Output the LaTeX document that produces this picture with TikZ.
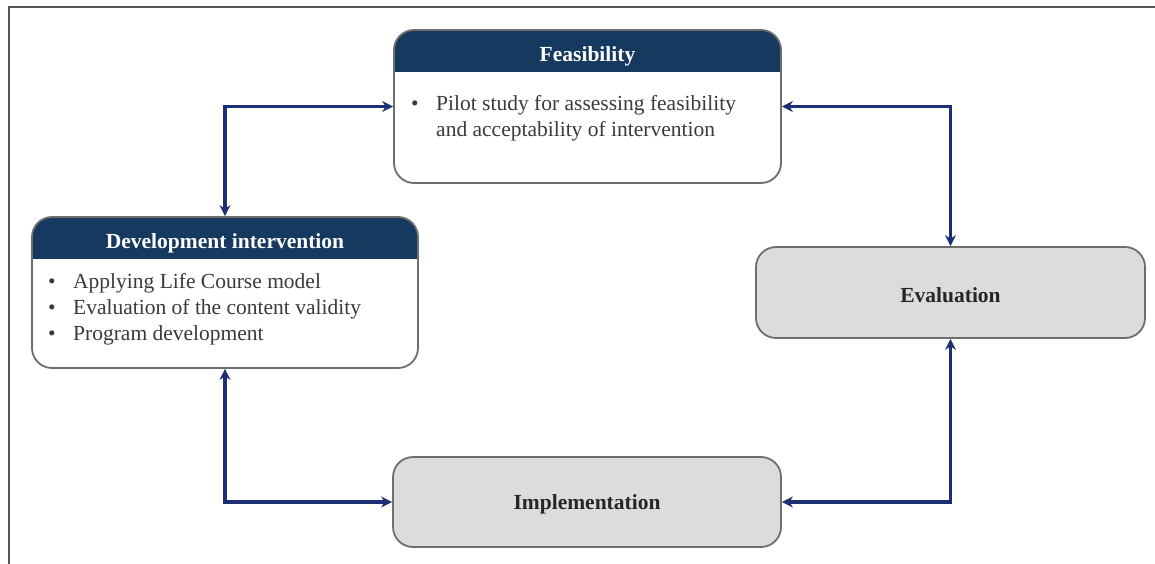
\documentclass[tikz,border=0pt]{standalone}
\usepackage{fontspec}
\setmainfont{Liberation Serif}
\usetikzlibrary{arrows.meta}
\definecolor{navy}{HTML}{163A5F}
\definecolor{arrowblue}{HTML}{1B2F72}
\definecolor{boxgray}{HTML}{DCDCDC}
\definecolor{bordergray}{HTML}{6E6E6E}
\definecolor{bodytext}{HTML}{3A3A3A}
\definecolor{framegray}{HTML}{555555}
\tikzset{
  box/.style={draw=bordergray, line width=1.8pt, rounded corners=20pt, fill=white, inner sep=0pt},
  headbox/.style={box, path picture={\fill[navy, sharp corners] (path picture bounding box.north west) rectangle ([yshift=-42pt]path picture bounding box.north east);}},
  graybox/.style={box, fill=boxgray},
  headtxt/.style={font=\fontsize{21.5}{26}\selectfont\bfseries, text=white, inner sep=0pt},
  graytxt/.style={font=\fontsize{21.5}{26}\selectfont\bfseries, text=black!85, inner sep=0pt},
  body/.style={font=\fontsize{21.5}{26}\selectfont, text=bodytext, inner sep=0pt, anchor=base west},
  conn/.style={draw=arrowblue, line width=3.2pt, {Stealth[length=11pt,width=11pt]}-{Stealth[length=11pt,width=11pt]}},
}
\newcommand{\bul}{\makebox[25pt][l]{\textbullet}}
\begin{document}
\begin{tikzpicture}[x=1pt,y=-1pt]
\useasboundingbox (0,0) rectangle (1155,564);
% frame
\draw[framegray, line width=1.6pt] (9,564) -- (9,7) -- (1155,7);
% boxes
\node[headbox, minimum width=387pt, minimum height=153pt] (fea) at (587.5,106.5) {};
\node[headbox, minimum width=386pt, minimum height=151pt] (dev) at (225,292.5) {};
\node[graybox, minimum width=389pt, minimum height=91pt] (eva) at (950.5,292.5) {};
\node[graybox, minimum width=388pt, minimum height=90pt] (imp) at (587,502) {};
% headers
\node[headtxt] (feah) at (587.5,56) {Feasibility};
\node[headtxt] (devh) at (225,243) {Development intervention};
\node[graytxt] (evat) at (950.5,295) {Evaluation};
\node[graytxt] (impt) at (587,504) {Implementation};
% body text
\node[body] (fea1) at (411,111) {\bul Pilot study for assessing feasibility};
\node[body] (fea2) at (436,137) {and acceptability of intervention};
\node[body] (dev1) at (48,288) {\bul Applying Life Course model};
\node[body] (dev2) at (48,314) {\bul Evaluation of the content validity};
\node[body] (dev3) at (48,340) {\bul Program development};
% connectors
\draw[conn] (dev.north) |- (fea.west);
\draw[conn] (fea.east) -| (eva.north);
\draw[conn] (eva.south) |- (imp.east);
\draw[conn] (dev.south) |- (imp.west);
\end{tikzpicture}
\end{document}
